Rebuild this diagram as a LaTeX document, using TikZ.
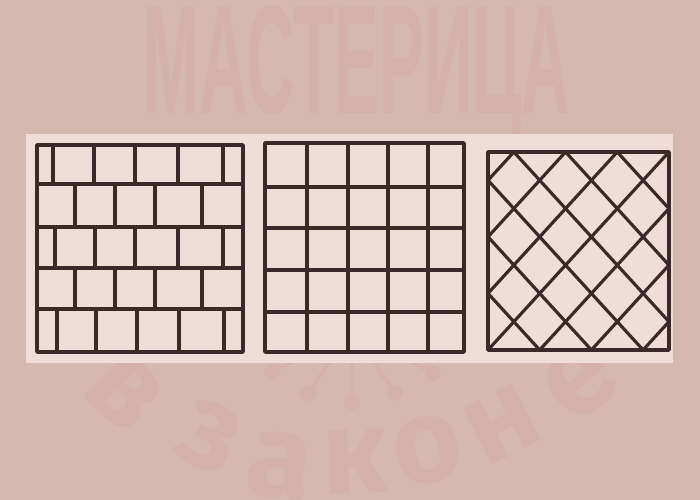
\documentclass[tikz,border=0pt]{standalone}
\usepackage{fontspec}
\newfontfamily\wmsans{Liberation Sans}
\newfontfamily\wmround{Fira Sans}
\definecolor{wallbg}{HTML}{D6B9AE}
\definecolor{wmpink}{HTML}{D4B2AA}
\definecolor{paper}{HTML}{F0DDD7}
\definecolor{ink}{HTML}{3C2828}

\begin{document}
\begin{tikzpicture}[x=0.02cm,y=-0.02cm,join=round,
        tile/.style={draw=ink,line width=1.8pt},
        frame/.style={draw=ink,line width=2.1pt},
        wm/.style={text=wmpink,inner sep=0pt},
        wmletter/.style={wm,font=\wmround\bfseries\fontsize{68}{68}\selectfont},
        wmdot/.style={circle,fill=wmpink,minimum size=0.32cm,inner sep=0pt},
        wmline/.style={draw=wmpink,line width=2.2pt}] %three tile layouts
        \fill[wallbg] (0,0) rectangle (700,500);
        \useasboundingbox (0,0) rectangle (700,500);
        % watermark
        \node[wm,anchor=base west] (mast) at (143,114)
                {\resizebox{8.54cm}{2.16cm}{\wmsans\bfseries МАСТЕРИЦА}};
        \coordinate (hub) at (352,330);
        \node[wmdot] (d1) at (272,372) {};
        \node[wmdot] (d2) at (308,393) {};
        \node[wmdot] (d3) at (352,402) {};
        \node[wmdot] (d4) at (395,393) {};
        \node[wmdot] (d5) at (433,373) {};
        \draw[wmline] (hub)--(d1) (hub)--(d2) (hub)--(d3) (hub)--(d4) (hub)--(d5);
        \node[wmletter,rotate=-45] (lv) at (125,392) {в};
        \node[wmletter,rotate=-24] (lz) at (210,437) {з};
        \node[wmletter,rotate=-9] (la) at (280,466) {а};
        \node[wmletter,rotate=2] (lk) at (355,462) {к};
        \node[wmletter,rotate=14] (lo) at (428,450) {о};
        \node[wmletter,rotate=27] (ln) at (502,424) {н};
        \node[wmletter,rotate=42] (le) at (580,382) {е};
        % sheet
        \fill[paper] (26,134) rectangle (673,363);
        % bricks
        \draw[tile] (37,184)--(243,184) (37,227)--(243,227) (37,268)--(243,268) (37,309)--(243,309);
        \draw[tile] (53,145)--(53,184) (94,145)--(94,184) (135,145)--(135,184) (178,145)--(178,184) (223,145)--(223,184);
        \draw[tile] (75,184)--(75,227) (115,184)--(115,227) (155,184)--(155,227) (202,184)--(202,227);
        \draw[tile] (55,227)--(55,268) (95,227)--(95,268) (135,227)--(135,268) (178,227)--(178,268) (223,227)--(223,268);
        \draw[tile] (75,268)--(75,309) (115,268)--(115,309) (155,268)--(155,309) (202,268)--(202,309);
        \draw[tile] (57,309)--(57,352) (96,309)--(96,352) (137,309)--(137,352) (179,309)--(179,352) (224,309)--(224,352);
        \draw[frame] (37,145) rectangle (243,352);
        % straight grid
        \draw[tile] (307,143)--(307,352) (348,143)--(348,352) (388,143)--(388,352) (428,143)--(428,352);
        \draw[tile] (265,187)--(464,187) (265,228)--(464,228) (265,270)--(464,270) (265,312)--(464,312);
        \draw[frame] (265,143) rectangle (464,352);
        % diagonal
        \begin{scope}[shift={(488,152)},x=0.5171cm,y=-0.5657cm]
                \clip (0,0) rectangle (7,7);
                \foreach \k in {-7,-5,...,7}
                        \draw[tile] (\k,0)--(\k+7,7);
                \foreach \m in {1,3,...,13}
                        \draw[tile] (\m,0)--(\m-7,7);
        \end{scope}
        \draw[frame] (488,152) rectangle (669,350);
\end{tikzpicture}
\end{document}
